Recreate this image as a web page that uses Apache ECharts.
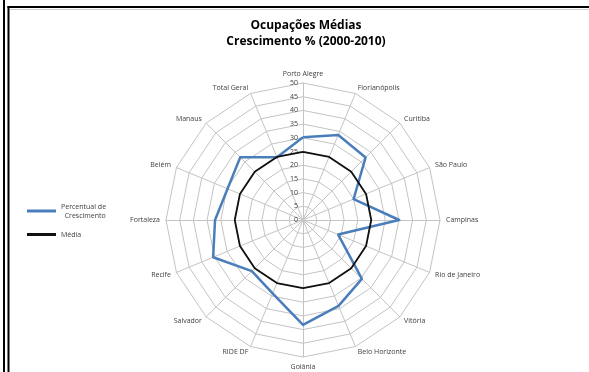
<!DOCTYPE html>
<html><head><meta charset="utf-8">
<script src="https://cdn.jsdelivr.net/npm/echarts@6/dist/echarts.min.js"></script>
<style>html,body{margin:0;padding:0;background:#fff}#c{width:589px;height:372px}</style>
</head><body><div id="c"></div>
<script>
// categories in clockwise order starting at top
var cities = ['Porto Alegre','Florianópolis','Curitiba','São Paulo','Campinas','Rio de Janeiro','Vitória','Belo Horizonte','Goiânia','RIDE DF','Salvador','Recife','Fortaleza','Belém','Manaus','Total Geral'];
var percentual = [30.2,33.6,32.3,20.0,35.1,13.9,30.4,33.9,38.3,29.0,26.4,35.5,32.1,29.8,32.4,24.8];
var media = [24.9,24.9,24.9,24.9,24.9,24.9,24.9,24.9,24.9,24.9,24.9,24.9,24.9,24.9,24.9,24.9];
var axisMax = 50;
var tickStep = 5;
var titleLines = ['Ocupações Médias','Crescimento % (2000-2010)'];
var seriesNames = ['Percentual de\n  Crescimento','Média'];

// ECharts radar runs counter-clockwise: reorder (keep first, reverse the rest)
function ccw(arr){ return [arr[0]].concat(arr.slice(1).reverse()); }
var indicators = ccw(cities).map(function(n){ return {name:n, max:axisMax, min:0}; });

var chart = echarts.init(document.getElementById('c'), null, {renderer:'canvas'});
var font = "'Open Sans', 'Liberation Sans', sans-serif";
chart.setOption({
  animation:false,
  backgroundColor:'#fff',
  title:{
    text: titleLines.join('\n'), left:301, top:13, textAlign:'center',
    textStyle:{fontFamily:font, fontSize:12, fontWeight:'bold', color:'#000', lineHeight:16}
  },
  legend:{
    orient:'vertical', left:22, top:197, itemGap:10, itemWidth:29, itemHeight:3,
    textStyle:{fontFamily:font, fontSize:7, color:'#404040', lineHeight:9},
    data:[{name:seriesNames[0], icon:'rect'},{name:seriesNames[1], icon:'rect'}]
  },
  radar:{
    center:[303,220], radius:137, startAngle:90, shape:'polygon', splitNumber:axisMax/tickStep,
    indicator: indicators, nameGap:6,
    axisName:{color:'#404040', fontFamily:font, fontSize:7},
    splitLine:{lineStyle:{color:'#c4c4c4', width:1}},
    splitArea:{show:false},
    axisLine:{lineStyle:{color:'#c4c4c4', width:1}},
    axisLabel:{show:false}
  },
  grid:{left:303, top:83, width:1, height:137},
  xAxis:{type:'value', show:false},
  yAxis:{type:'value', min:0, max:axisMax, interval:tickStep,
    axisLine:{show:false}, axisTick:{show:false}, splitLine:{show:false},
    axisLabel:{fontFamily:font, fontSize:7, color:'#404040', margin:5}},
  series:[{
    type:'radar', symbol:'none',
    data:[
      {name:seriesNames[0], value:ccw(percentual), lineStyle:{color:'#4a7ebb', width:2.5}, itemStyle:{color:'#4a7ebb'}},
      {name:seriesNames[1], value:ccw(media), lineStyle:{color:'#111', width:1.8}, itemStyle:{color:'#111'}}
    ]
  }],
  graphic:[
    {type:'line', shape:{x1:4,y1:0,x2:4,y2:372}, style:{stroke:'#000', lineWidth:2}},
    {type:'line', shape:{x1:8.5,y1:6,x2:8.5,y2:372}, style:{stroke:'#000', lineWidth:2}},
    {type:'line', shape:{x1:7.5,y1:7,x2:589,y2:7}, style:{stroke:'#000', lineWidth:2}},
    {type:'line', shape:{x1:10,y1:9.5,x2:589,y2:9.5}, style:{stroke:'#d0d0d0', lineWidth:1}}
  ]
});
</script></body></html>
